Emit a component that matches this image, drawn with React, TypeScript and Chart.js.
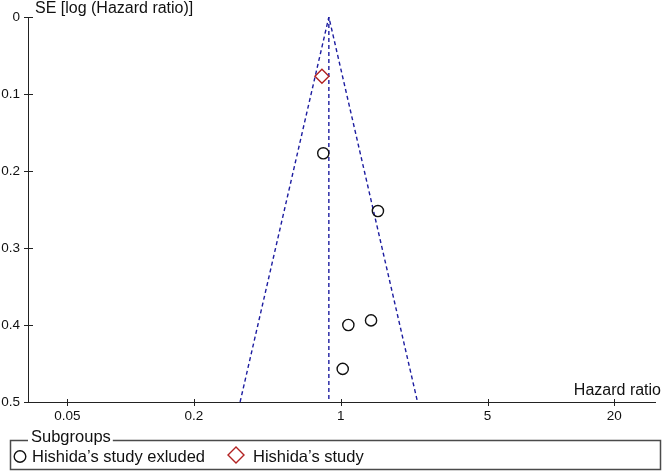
import React, { useEffect, useRef } from "react";
import { Chart, registerables } from "chart.js";

Chart.register(...registerables);

// ---- data ----
const xTickValues = [0.05, 0.2, 1, 5, 20];
const xTickLabels = ["0.05", "0.2", "1", "5", "20"];
const yTickValues = [0, 0.1, 0.2, 0.3, 0.4, 0.5];
const yTickLabels = ["0", "0.1", "0.2", "0.3", "0.4", "0.5"];

const excludedHR = [0.826, 1.503, 1.087, 1.394, 1.022];
const excludedSE = [0.177, 0.252, 0.4, 0.394, 0.457];

const hishidaHR = [0.814];
const hishidaSE = [0.077];

const funnelHR = [0.332, 0.878, 2.32];
const funnelSE = [0.5, 0, 0.5];

const pooledHR = [0.878, 0.878];
const pooledSE = [0, 0.5];

const xRange = [0.0325, 31.5];
const yRange = [0, 0.5];

const legendTitle = "Subgroups";
const seriesNames = ["Hishida\u2019s study exluded", "Hishida\u2019s study"];
const yTitle = "SE [log (Hazard ratio)]";
const xTitle = "Hazard ratio";

const FONT = '"Liberation Sans", Arial, Helvetica, sans-serif';
const FUNNEL_COLOR = "#1c1ca0";
const DIAMOND_COLOR = "#b22222";

const pts = (xs: number[], ys: number[]) => xs.map((v, i) => ({ x: v, y: ys[i] }));

const decorPlugin = {
  id: "decor",
  afterDraw(chart: any) {
    const ctx = chart.ctx as CanvasRenderingContext2D;
    const ca = chart.chartArea;
    const xs = chart.scales.x;
    const ys = chart.scales.y;
    ctx.save();
    // crossing tick marks
    ctx.strokeStyle = "#222";
    ctx.lineWidth = 1;
    for (const v of yTickValues) {
      const py = Math.round(ys.getPixelForValue(v)) + 0.5;
      ctx.beginPath();
      ctx.moveTo(ca.left - 4, py);
      ctx.lineTo(ca.left + 5, py);
      ctx.stroke();
    }
    for (const v of xTickValues) {
      const px = Math.round(xs.getPixelForValue(v)) + 0.5;
      ctx.beginPath();
      ctx.moveTo(px, ca.bottom - 3);
      ctx.lineTo(px, ca.bottom + 4);
      ctx.stroke();
    }
    // axis titles
    ctx.fillStyle = "#111";
    ctx.font = `16px ${FONT}`;
    ctx.textBaseline = "alphabetic";
    ctx.textAlign = "left";
    ctx.fillText(yTitle, 35, 13);
    ctx.textAlign = "right";
    ctx.fillText(xTitle, 661, 395);

    // legend box
    ctx.font = `16.5px ${FONT}`;
    ctx.textAlign = "left";
    const titleW = ctx.measureText(legendTitle).width;
    const bx0 = 10.5, bx1 = 660.5, by0 = 440.5, by1 = 469.5;
    const tx = 31;
    ctx.strokeStyle = "#4a4a4a";
    ctx.lineWidth = 1.5;
    ctx.beginPath();
    ctx.moveTo(tx - 3, by0);
    ctx.lineTo(bx0, by0);
    ctx.lineTo(bx0, by1);
    ctx.lineTo(bx1, by1);
    ctx.lineTo(bx1, by0);
    ctx.lineTo(tx + titleW + 2, by0);
    ctx.stroke();
    ctx.fillStyle = "#111";
    ctx.fillText(legendTitle, tx, 442);

    // legend items
    ctx.lineWidth = 1.4;
    ctx.strokeStyle = "#111";
    ctx.beginPath();
    ctx.arc(20, 456.5, 5.8, 0, Math.PI * 2);
    ctx.stroke();
    ctx.fillText(seriesNames[0], 32, 462);

    ctx.strokeStyle = DIAMOND_COLOR;
    ctx.beginPath();
    const dx = 236, dy = 455, dr = 8;
    ctx.moveTo(dx - dr, dy);
    ctx.lineTo(dx, dy - dr);
    ctx.lineTo(dx + dr, dy);
    ctx.lineTo(dx, dy + dr);
    ctx.closePath();
    ctx.stroke();
    ctx.fillStyle = "#111";
    ctx.fillText(seriesNames[1], 253, 462);
    ctx.restore();
  },
};

export default function App() {
  const ref = useRef<HTMLCanvasElement | null>(null);
  useEffect(() => {
    if (!ref.current) return;
    const chart = new Chart(ref.current, {
      type: "scatter",
      data: {
        datasets: [
          {
            label: seriesNames[1],
            data: pts(hishidaHR, hishidaSE),
            pointStyle: "rectRot",
            pointRadius: 7,
            pointBorderColor: DIAMOND_COLOR,
            pointBackgroundColor: "rgba(0,0,0,0)",
            pointBorderWidth: 1.4,
            showLine: false,
          },
          {
            label: seriesNames[0],
            data: pts(excludedHR, excludedSE),
            pointStyle: "circle",
            pointRadius: 5.6,
            pointBorderColor: "#111",
            pointBackgroundColor: "rgba(0,0,0,0)",
            pointBorderWidth: 1.4,
            showLine: false,
          },
          {
            label: "pooled",
            data: pts(pooledHR, pooledSE),
            showLine: true,
            borderColor: FUNNEL_COLOR,
            borderWidth: 1.4,
            borderDash: [4, 3],
            pointRadius: 0,
            fill: false,
          },
          {
            label: "funnel",
            data: pts(funnelHR, funnelSE),
            showLine: true,
            borderColor: FUNNEL_COLOR,
            borderWidth: 1.4,
            borderDash: [4, 3],
            pointRadius: 0,
            fill: false,
          },
        ],
      },
      options: {
        responsive: false,
        animation: false,
        layout: { padding: { top: 17, left: 0, right: 0, bottom: 0 } },
        plugins: {
          legend: { display: false },
          tooltip: { enabled: false },
          title: { display: false },
        },
        scales: {
          x: {
            type: "logarithmic",
            min: xRange[0],
            max: xRange[1],
            grid: { display: false, drawTicks: false },
            border: { display: true, color: "#222", width: 1 },
            afterBuildTicks: (s: any) => {
              s.ticks = xTickValues.map((v) => ({ value: v }));
            },
            afterFit: (s: any) => {
              s.height = 71;
              s.paddingLeft = 0;
              s.paddingRight = 0;
            },
            ticks: {
              autoSkip: false,
              maxRotation: 0,
              padding: 6,
              color: "#111",
              font: { family: FONT, size: 13.5 },
              callback: (_v: any, i: number) => xTickLabels[i],
            },
          },
          y: {
            type: "linear",
            reverse: true,
            min: yRange[0],
            max: yRange[1],
            grid: { display: false, drawTicks: false },
            border: { display: true, color: "#222", width: 1 },
            afterBuildTicks: (s: any) => {
              s.ticks = yTickValues.map((v) => ({ value: v }));
            },
            afterFit: (s: any) => {
              s.width = 28;
              s.paddingTop = 0;
              s.paddingBottom = 0;
            },
            ticks: {
              autoSkip: false,
              padding: 8,
              color: "#111",
              font: { family: FONT, size: 13.5 },
              callback: (_v: any, i: number) => yTickLabels[i],
            },
          },
        },
      },
      plugins: [decorPlugin],
    } as any);
    return () => chart.destroy();
  }, []);

  return (
    <div style={{ position: "absolute", left: 0, top: 0, width: 664, height: 473, background: "#fff" }}>
      <canvas ref={ref} width={664} height={473} style={{ display: "block" }} />
    </div>
  );
}
